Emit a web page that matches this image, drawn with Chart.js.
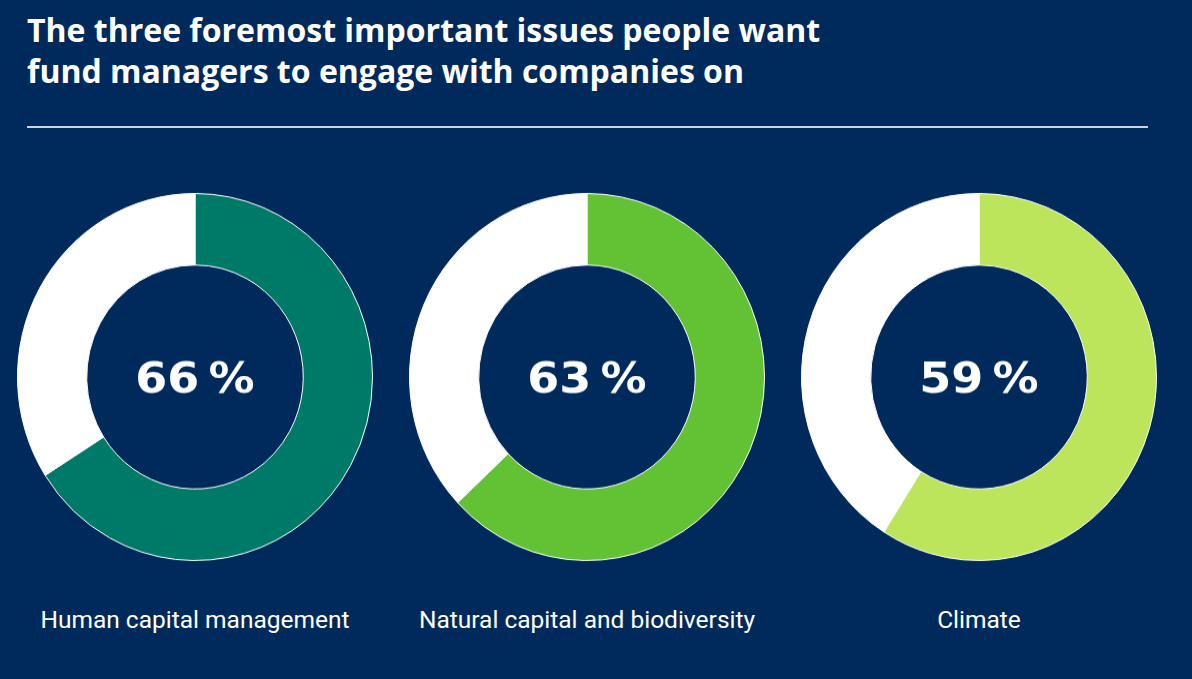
<!DOCTYPE html>
<html lang="en">
<head>
    <meta charset="UTF-8">
    <title>Engagement issues</title>
    <script src="https://cdn.jsdelivr.net/npm/chart.js"></script>
    <style>
        body {
            margin: 0;
            width: 1192px;
            height: 679px;
            background: #002a5c;
            overflow: hidden;
            position: relative;
            font-family: Roboto, "Noto Sans", sans-serif;
        }
        .title {
            position: absolute;
            left: 27px;
            top: 9px;
            color: #fff;
            font-family: "Open Sans", Roboto, sans-serif;
            font-weight: 700;
            font-size: 32px;
            line-height: 41px;
        }
        .rule {
            position: absolute;
            left: 27px;
            top: 126px;
            width: 1121px;
            height: 2px;
            background: #cdd3dc;
        }
        .donut {
            position: absolute;
            top: 199px;
            width: 356px;
            height: 356px;
            transform: scaleY(1.034);
        }
        .label {
            position: absolute;
            top: 606px;
            width: 392px;
            margin-left: -196px;
            text-align: center;
            color: #fff;
            font-size: 24.5px;
            line-height: 28px;
        }
    </style>
</head>
<body>
    <div class="title">The three foremost important issues people want<br>fund managers to engage with companies on</div>
    <div class="rule"></div>
    <div id="charts"></div>

    <script>
        const issues = ['Human capital management', 'Natural capital and biodiversity', 'Climate'];
        const shares = [66, 63, 59];
        const colors = ['#007a68', '#63c233', '#bde55b'];
        const centers = [195, 587, 979];

        // writes the percentage in the hole of each ring, a little widened
        const centerText = {
            id: 'centerText',
            afterDraw(chart) {
                const { ctx, chartArea } = chart;
                const x = (chartArea.left + chartArea.right) / 2;
                const y = (chartArea.top + chartArea.bottom) / 2;
                ctx.save();
                ctx.translate(x, y + 5);
                ctx.scale(1.15, 1);
                ctx.fillStyle = '#fff';
                ctx.font = '700 40px "DejaVu Sans", sans-serif';
                ctx.textAlign = 'center';
                ctx.textBaseline = 'middle';
                ctx.fillText(chart.data.datasets[0].data[0] + '\u2009%', 0, 0);
                ctx.restore();
            }
        };

        const holder = document.getElementById('charts');
        issues.forEach((name, i) => {
            const box = document.createElement('div');
            box.className = 'donut';
            box.style.left = (centers[i] - 178) + 'px';
            const canvas = document.createElement('canvas');
            box.appendChild(canvas);
            holder.appendChild(box);

            const label = document.createElement('div');
            label.className = 'label';
            label.style.left = centers[i] + 'px';
            label.textContent = name;
            holder.appendChild(label);

            new Chart(canvas, {
                type: 'doughnut',
                data: {
                    labels: [name, 'Other'],
                    datasets: [{
                        data: [shares[i], 100 - shares[i]],
                        backgroundColor: [colors[i], '#ffffff'],
                        borderColor: '#ffffff',
                        borderWidth: 1
                    }]
                },
                options: {
                    responsive: true,
                    maintainAspectRatio: false,
                    animation: false,
                    cutout: '61%',
                    plugins: {
                        legend: { display: false },
                        tooltip: { enabled: false }
                    }
                },
                plugins: [centerText]
            });
        });
    </script>
</body>
</html>
